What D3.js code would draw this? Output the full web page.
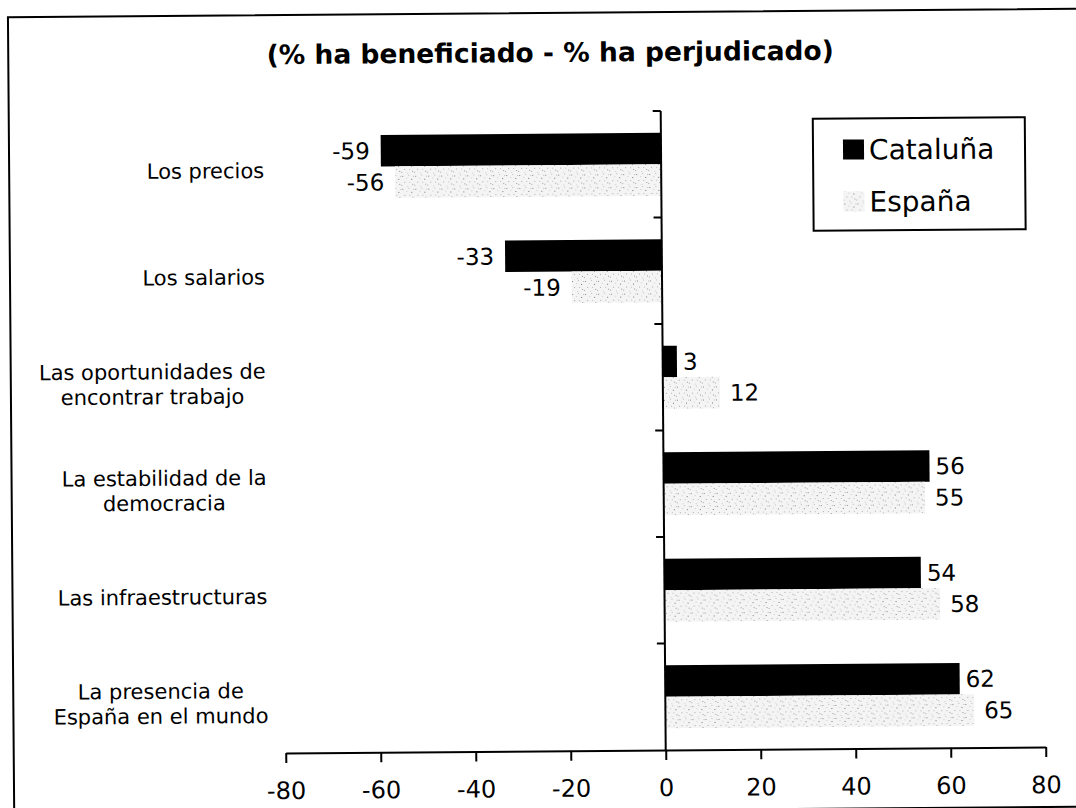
<!DOCTYPE html>
<html>
<head>
<meta charset="utf-8">
<script src="https://cdn.jsdelivr.net/npm/d3@7"></script>
<style>
  body { margin: 0; background: #fff; overflow: hidden; }
  svg { display: block; }
  text { font-family: "DejaVu Sans", Verdana, sans-serif; fill: #000; }
</style>
</head>
<body>
<svg id="chart" width="1076" height="808"></svg>
<script>
const title = "(% ha beneficiado - % ha perjudicado)";
const categories = [
  "Los precios",
  "Los salarios",
  "Las oportunidades de\nencontrar trabajo",
  "La estabilidad de la\ndemocracia",
  "Las infraestructuras",
  "La presencia de\nEspaña en el mundo"
];
const seriesNames = ["Cataluña", "España"];
const cataluna = [-59, -33, 3, 56, 54, 62];
const espana = [-56, -19, 12, 55, 58, 65];
const xTicks = [-80, -60, -40, -20, 0, 20, 40, 60, 80];

const svg = d3.select("#chart");

// stippled grey fill like the scanned original
const defs = svg.append("defs");
const pat = defs.append("pattern")
  .attr("id", "stipple")
  .attr("patternUnits", "userSpaceOnUse")
  .attr("width", 13).attr("height", 13);
pat.append("rect").attr("width", 13).attr("height", 13).attr("fill", "#f4f4f4");
[[1, 2, "#888"], [7, 1, "#bbb"], [3, 8, "#aaa"], [10, 5, "#777"], [5, 4, "#ccc"],
 [0, 11, "#aaa"], [11, 10, "#999"], [6, 12, "#ccc"], [12, 2, "#bbb"], [8, 8, "#bbb"]].forEach(d => {
  pat.append("rect").attr("x", d[0]).attr("y", d[1]).attr("width", 1).attr("height", 1).attr("fill", d[2]);
});

// the scan is tilted a little, so is the whole drawing
const root = svg.append("g").attr("transform", "rotate(-0.45 538 404)");

// frame (right edge falls outside the picture)
root.append("path")
  .attr("d", "M1300,811 H11 V13 H1300")
  .attr("fill", "none").attr("stroke", "#000").attr("stroke-width", 2);

// title
root.append("text")
  .attr("x", 553).attr("y", 62)
  .attr("text-anchor", "middle")
  .style("font-size", "26.5px").style("font-weight", "bold")
  .text(title);

// scales
const x = d3.scaleLinear().domain([-80, 80]).range([283, 1043]);
const y = d3.scaleBand().domain(categories).range([112, 751])
  .paddingInner(0.41).paddingOuter(0.205);
const ys = d3.scaleBand().domain(seriesNames).range([0, y.bandwidth()]);

const rows = categories.map((c, i) => ({ cat: c, values: [cataluna[i], espana[i]] }));

// bars
const grp = root.append("g").selectAll("g").data(rows).join("g")
  .attr("transform", d => `translate(0,${y(d.cat)})`);

grp.selectAll("rect").data(d => d.values.map((v, j) => ({ v, s: seriesNames[j], j })))
  .join("rect")
  .attr("x", d => x(Math.min(0, d.v)))
  .attr("y", d => ys(d.s))
  .attr("width", d => Math.abs(x(d.v) - x(0)))
  .attr("height", ys.bandwidth())
  .attr("fill", d => d.j === 0 ? "#000" : "url(#stipple)");

grp.selectAll("text").data(d => d.values.map((v, j) => ({ v, s: seriesNames[j], j })))
  .join("text")
  .attr("x", d => d.v < 0 ? x(d.v) - 11 : x(d.v) + (d.j === 0 ? 6 : 10))
  .attr("y", d => ys(d.s) + ys.bandwidth() / 2)
  .attr("dy", "0.36em")
  .attr("text-anchor", d => d.v < 0 ? "end" : "start")
  .style("font-size", "23px")
  .text(d => d.v);

// x axis
const xAxis = root.append("g")
  .attr("transform", `translate(0,${y.range()[1]})`)
  .call(d3.axisBottom(x).tickValues(xTicks).tickFormat(d => String(d))
    .tickSize(10).tickSizeOuter(0).tickPadding(19));
xAxis.select(".domain").attr("stroke-width", 2);
xAxis.selectAll(".tick line").attr("stroke-width", 2);
xAxis.selectAll(".tick text")
  .style("font-family", "\"DejaVu Sans\", Verdana, sans-serif")
  .style("font-size", "24px");

// y axis: line at zero with ticks between the categories
const yAxis = root.append("g");
yAxis.append("line")
  .attr("x1", x(0)).attr("x2", x(0))
  .attr("y1", y.range()[0]).attr("y2", y.range()[1])
  .attr("stroke", "#000").attr("stroke-width", 2);
yAxis.selectAll("line.tk").data(categories).join("line")
  .attr("class", "tk")
  .attr("x1", x(0) - 8).attr("x2", x(0))
  .attr("y1", d => y(d) - y.step() * y.paddingInner() / 2)
  .attr("y2", d => y(d) - y.step() * y.paddingInner() / 2)
  .attr("stroke", "#000").attr("stroke-width", 2);

// category labels: lines centred on each other, block right aligned
const labelRight = 266;
const lineH = 25;
categories.forEach(c => {
  const lines = c.split("\n");
  const g = root.append("g");
  const cy = y(c) + y.bandwidth() / 2 + 3;
  const texts = lines.map((t, i) => g.append("text")
    .attr("y", cy + (i - (lines.length - 1) / 2) * lineH)
    .attr("dy", "0.36em")
    .attr("text-anchor", "middle")
    .style("font-size", "21px")
    .text(t));
  const w = d3.max(texts, t => t.node().getComputedTextLength());
  texts.forEach(t => t.attr("x", labelRight - w / 2));
});

// legend
const legend = root.append("g");
legend.append("rect")
  .attr("x", 815).attr("y", 121).attr("width", 212).attr("height", 112)
  .attr("fill", "#fff").attr("stroke", "#000").attr("stroke-width", 2);
const legendRows = legend.selectAll("g").data(seriesNames).join("g")
  .attr("transform", (d, i) => `translate(0,${152 + i * 52})`);
legendRows.append("rect")
  .attr("x", 845).attr("y", -10).attr("width", 21).attr("height", 20)
  .attr("fill", (d, i) => i === 0 ? "#000" : "url(#stipple)");
legendRows.append("text")
  .attr("x", 871).attr("dy", "0.36em")
  .style("font-size", "28px")
  .text(d => d);
</script>
</body>
</html>
